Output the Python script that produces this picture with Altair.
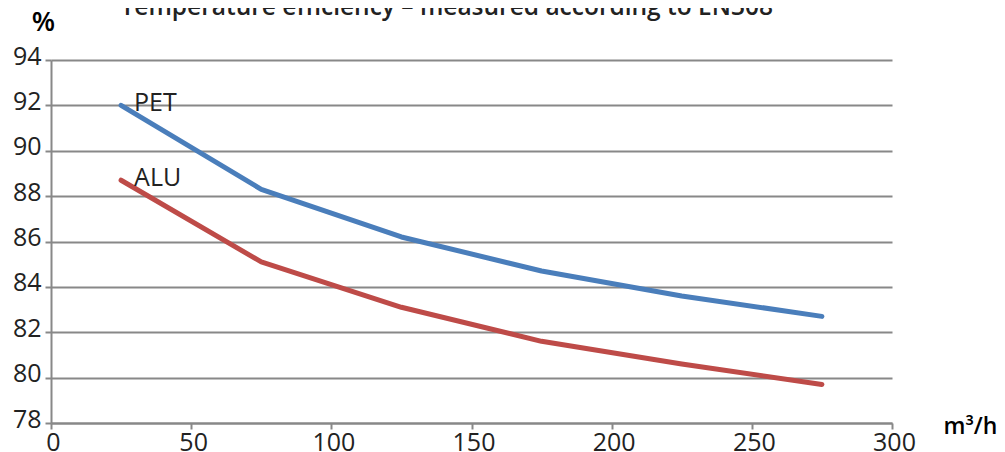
import altair as alt
import pandas as pd

flow = [25, 75, 125, 175, 225, 275]
pet = [92.0, 88.3, 86.2, 84.7, 83.6, 82.7]
alu = [88.7, 85.1, 83.1, 81.6, 80.6, 79.7]
series_names = ["PET", "ALU"]
colors = ["#4a7ebb", "#be4b48"]
x_ticks = [0, 50, 100, 150, 200, 250, 300]
y_ticks = [78, 80, 82, 84, 86, 88, 90, 92, 94]
title_text = "Temperature efficiency – measured according to EN308"

rows = []
for name, vals in zip(series_names, [pet, alu]):
    for f, v in zip(flow, vals):
        rows.append({"flow": f, "eff": v, "series": name})
df = pd.DataFrame(rows)
first = df[df["flow"] == flow[0]]

FONT = "Open Sans"
LBL = 25
x_scale = alt.Scale(domain=[0, 300], nice=False)
y_scale = alt.Scale(domain=[78, 94], nice=False)

x_enc = alt.X("flow:Q", scale=x_scale,
              axis=alt.Axis(values=x_ticks, title="m³/h", grid=False,
                            titleX=919, titleY=3, titleAlign="center",
                            titleBaseline="middle", titleFontSize=23,
                            titleFontWeight=600, titleFont=FONT,
                            labelFontSize=LBL, labelFont=FONT, labelColor="#222",
                            labelFlush=False, labelOffset=2,
                            domainColor="#888", domainWidth=2, tickColor="#888",
                            tickWidth=2, tickSize=6, labelPadding=1))
y_enc = alt.Y("eff:Q", scale=y_scale,
              axis=alt.Axis(values=y_ticks, title="%", titleAngle=0,
                            titleX=-8, titleY=-38, titleAlign="center",
                            titleBaseline="middle", titleFontSize=27,
                            titleFontWeight=600, titleFont=FONT,
                            labelFontSize=LBL, labelFont=FONT, labelColor="#222",
                            labelFlush=False, labelOffset=-4,
                            domainColor="#888", domainWidth=2, tickColor="#888",
                            tickWidth=2, tickSize=6, labelPadding=4,
                            grid=True, gridColor="#888", gridWidth=2))
color_enc = alt.Color("series:N", scale=alt.Scale(domain=series_names, range=colors), legend=None)

lines = alt.Chart(df).mark_line(strokeWidth=5, strokeCap="round", strokeJoin="round").encode(
    x=x_enc, y=y_enc, color=color_enc, detail="series:N")

labels = alt.Chart(first).mark_text(align="left", baseline="middle", dx=13, dy=-2,
                                    fontSize=LBL, font=FONT, color="#222").encode(
    x=alt.X("flow:Q", scale=x_scale, axis=None),
    y="eff:Q",
    text="series:N")

# chart title carried by an invisible top axis
title_layer = alt.Chart(first).mark_point(opacity=0).encode(
    x=alt.X("flow:Q", scale=x_scale,
            axis=alt.Axis(orient="top", title=title_text, labels=False, ticks=False,
                          domain=False, grid=False, titleX=69, titleY=-46,
                          titleAlign="left", titleBaseline="alphabetic",
                          titleFontSize=24.5, titleFontWeight=600, titleFont=FONT,
                          titleColor="#222")),
    y="eff:Q")

chart = alt.layer(lines, labels, title_layer).resolve_axis(x="independent").properties(
    width=841, height=363,
    background="white",
    autosize=alt.AutoSizeParams(type="none"),
    padding={"left": 43, "top": 52, "right": 105, "bottom": 40},
).configure_view(stroke=None)

chart.save("out.html", embed_options={"renderer": "svg", "actions": False})
